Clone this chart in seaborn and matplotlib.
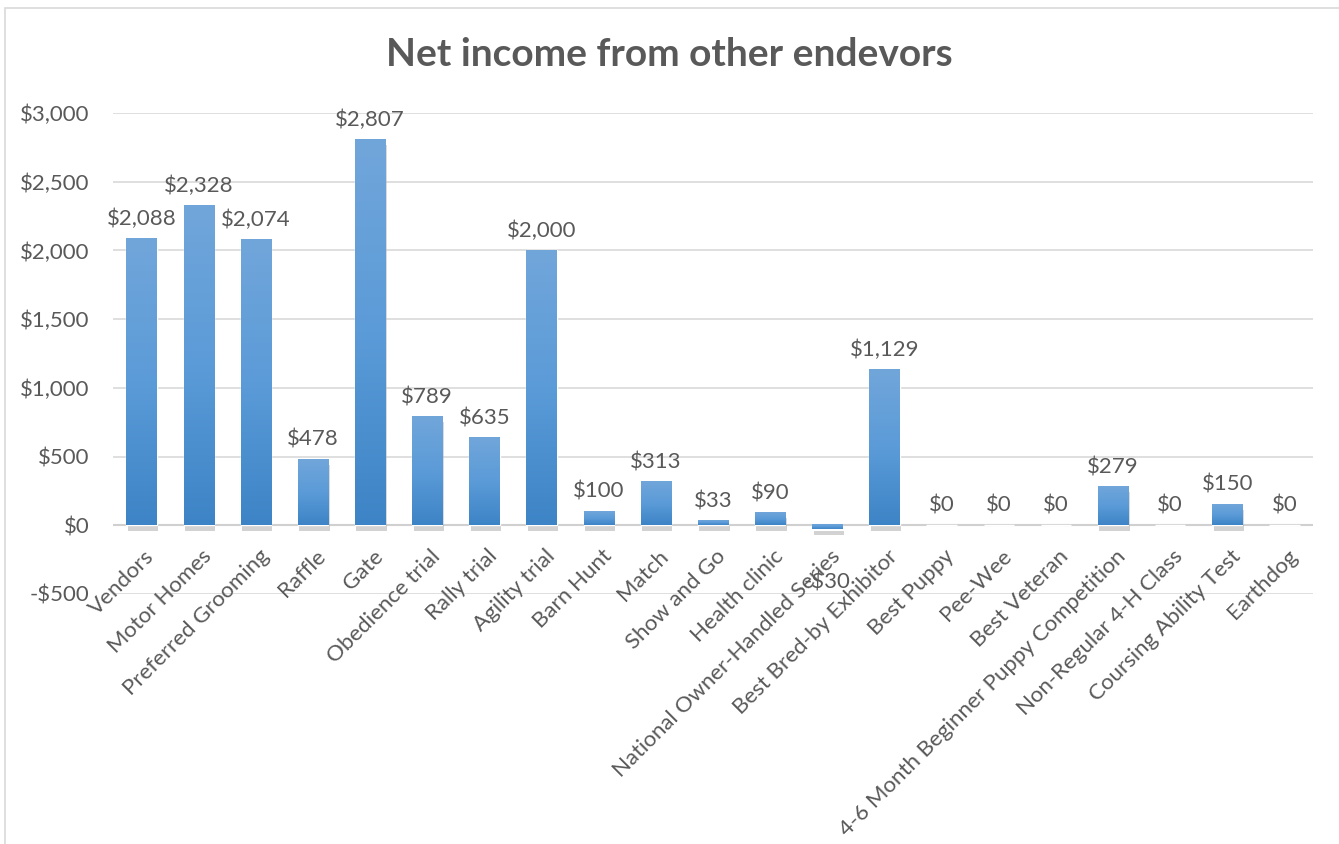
import numpy as np
import pandas as pd
import matplotlib
matplotlib.use("Agg")
import matplotlib.pyplot as plt
import matplotlib.patheffects as pe
from matplotlib.colors import LinearSegmentedColormap
from matplotlib.patches import Rectangle
import seaborn as sns

# Chart data
categories = ["Vendors", "Motor Homes", "Preferred Grooming", "Raffle", "Gate",
              "Obedience trial", "Rally trial", "Agility trial", "Barn Hunt", "Match",
              "Show and Go", "Health clinic", "National Owner-Handled Series",
              "Best Bred-by Exhibitor", "Best Puppy", "Pee-Wee", "Best Veteran",
              "4-6 Month Beginner Puppy Competition", "Non-Regular 4-H Class",
              "Coursing Ability Test", "Earthdog"]
net_income = [2088, 2328, 2074, 478, 2807, 789, 635, 2000, 100, 313,
              33, 90, -30, 1129, 0, 0, 0, 279, 0, 150, 0]
y_ticks = [-500, 0, 500, 1000, 1500, 2000, 2500, 3000]

df = pd.DataFrame({"Category": categories, "Net": net_income})

sns.set_style("white")
plt.rcParams["font.family"] = ["Lato", "DejaVu Sans"]
text_color = "#595959"
fs = 16

fig = plt.figure(figsize=(13.39, 8.44), dpi=100)
ax = fig.add_axes([113 / 1339, 1 - 594 / 844, 1200 / 1339, (594 - 113) / 844])

sns.barplot(data=df, x="Category", y="Net", color="#4A8FD2", width=0.53,
            ax=ax, zorder=3)

# gradient fill on each bar, with a soft shadow underneath
cmap = LinearSegmentedColormap.from_list("bar", ["#3D84C6", "#5B9BD8", "#71A6DA"])
grad = np.linspace(0, 1, 256).reshape(-1, 1)
for p in ax.patches:
    x0, w = p.get_x(), p.get_width()
    y0, h = p.get_y(), p.get_height()
    if h == 0:
        continue
    lo, hi = min(y0, y0 + h), max(y0, y0 + h)
    p.set_path_effects([pe.SimplePatchShadow(offset=(1, -4), shadow_rgbFace="#808080", alpha=0.35),
                        pe.Normal()])
    ax.imshow(grad, cmap=cmap, extent=(x0, x0 + w, lo, hi), origin="lower",
              aspect="auto", zorder=4, interpolation="bicubic")

ax.set_xlim(-0.5, len(categories) - 0.5)
ax.set_ylim(-500, 3000)
ax.set_yticks(y_ticks)
ax.set_yticklabels([f"-${abs(v):,}" if v < 0 else f"${v:,}" for v in y_ticks])
ax.yaxis.grid(True, color="#D9D9D9", linewidth=1.2, zorder=0)
ax.axhline(0, color="#D0D0D0", linewidth=1.5, zorder=2)
for s in ax.spines.values():
    s.set_visible(False)

ax.tick_params(axis="y", length=0, labelsize=fs, labelcolor=text_color, pad=17)
ax.set_xticks([])
ax.set_xlabel("")
ax.set_ylabel("")

# category labels hang from the $0 axis line, as in the original
for i, c in enumerate(categories):
    ax.annotate(c, (i, 0), xytext=(2, -15), textcoords="offset points",
                rotation=45, rotation_mode="anchor", ha="right", va="top",
                fontsize=fs, color=text_color, annotation_clip=False)

# data labels
for i, v in enumerate(net_income):
    lab = f"-${abs(v):,}" if v < 0 else f"${v:,}"
    if v >= 0:
        ax.annotate(lab, (i, v), xytext=(0, 7), textcoords="offset points",
                    ha="center", va="bottom", fontsize=fs, color=text_color,
                    annotation_clip=False)
    else:
        ax.annotate(lab, (i, v), xytext=(0, -31), textcoords="offset points",
                    ha="center", va="top", fontsize=fs, color=text_color,
                    annotation_clip=False)

fig.text(0.5, 1 - 55 / 844, "Net income from other endevors", ha="center",
         va="center", fontsize=28, fontweight="bold", color=text_color)

# chart area border
fig.patches.append(Rectangle((5 / 1339, -0.1), 1.2, 1 - 8 / 844 + 0.1,
                             transform=fig.transFigure, fill=False,
                             edgecolor="#D9D9D9", linewidth=1.2))

fig.savefig("out.png", dpi=100)
